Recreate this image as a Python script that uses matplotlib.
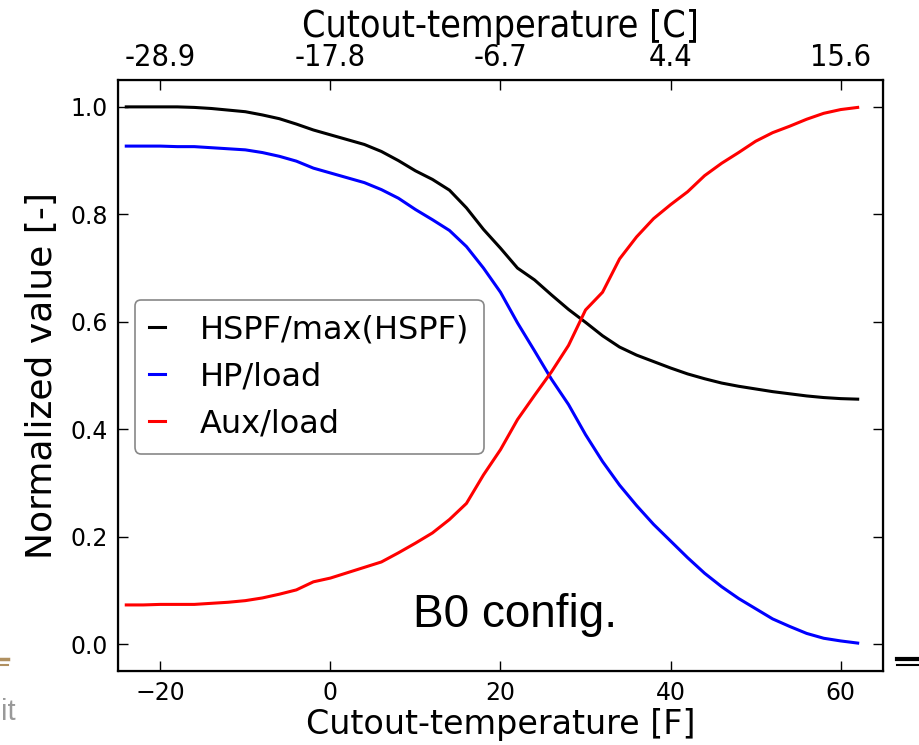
"""Normalized HSPF / HP / Aux vs cutout temperature (B0 config)."""
import matplotlib
matplotlib.use('Agg')
import matplotlib.pyplot as plt
from matplotlib.lines import Line2D

plt.rcParams['font.family'] = ['DejaVu Sans']

# cutout temperature [F]
temp_f = [-24, -22, -20, -18, -16, -14, -12, -10, -8, -6, -4, -2, 0, 2, 4, 6,
          8, 10, 12, 14, 16, 18, 20, 22, 24, 26, 28, 30, 32, 34, 36, 38, 40,
          42, 44, 46, 48, 50, 52, 54, 56, 58, 60, 62]

hspf_norm = [1.000, 1.000, 1.000, 1.000, 0.999, 0.997, 0.994, 0.991, 0.985,
             0.978, 0.968, 0.957, 0.948, 0.939, 0.930, 0.917, 0.900, 0.881,
             0.865, 0.845, 0.812, 0.772, 0.737, 0.700, 0.678, 0.650, 0.623,
             0.599, 0.574, 0.553, 0.538, 0.526, 0.514, 0.503, 0.494, 0.486,
             0.480, 0.475, 0.470, 0.466, 0.462, 0.459, 0.457, 0.456]

hp_load = [0.927, 0.927, 0.927, 0.926, 0.926, 0.924, 0.922, 0.920, 0.915,
           0.908, 0.899, 0.886, 0.877, 0.868, 0.859, 0.846, 0.830, 0.809,
           0.790, 0.770, 0.740, 0.700, 0.655, 0.598, 0.546, 0.493, 0.446,
           0.390, 0.340, 0.296, 0.258, 0.223, 0.192, 0.161, 0.132, 0.107,
           0.085, 0.066, 0.047, 0.033, 0.020, 0.011, 0.006, 0.002]

aux_load = [0.073, 0.073, 0.074, 0.074, 0.074, 0.076, 0.078, 0.081, 0.086,
            0.093, 0.101, 0.116, 0.123, 0.133, 0.143, 0.153, 0.170, 0.188,
            0.207, 0.232, 0.262, 0.315, 0.362, 0.418, 0.463, 0.507, 0.556,
            0.622, 0.655, 0.717, 0.758, 0.792, 0.818, 0.842, 0.872, 0.895,
            0.915, 0.936, 0.952, 0.964, 0.977, 0.988, 0.995, 0.999]

f_ticks = [-20, 0, 20, 40, 60]
c_tick_labels = ['-28.9', '-17.8', '-6.7', '4.4', '15.6']
y_ticks = [0.0, 0.2, 0.4, 0.6, 0.8, 1.0]

fig = plt.figure(figsize=(9.2, 7.45), dpi=100)
ax = fig.add_axes([0.128, 0.0993, 0.832, 0.7933])

ax.plot(temp_f, hspf_norm, color='black', lw=2.2, label='HSPF/max(HSPF)')
ax.plot(temp_f, hp_load, color='blue', lw=2.2, label='HP/load')
ax.plot(temp_f, aux_load, color='red', lw=2.2, label='Aux/load')

ax.set_xlim(-25, 65)
ax.set_ylim(-0.05, 1.05)
ax.set_xticks(f_ticks)
ax.set_yticks(y_ticks)
ax.set_yticklabels([f'{v:.1f}' for v in y_ticks])
ax.tick_params(direction='in', length=7, width=1, labelsize=17,
               right=True, top=False, pad=7)
ax.set_xlabel('Cutout-temperature [F]', fontsize=24, labelpad=2)
ax.set_ylabel('Normalized value [-]', fontsize=26, labelpad=8)
for sp in ax.spines.values():
    sp.set_linewidth(1.6)

ax2 = ax.twiny()
ax2.set_xlim(ax.get_xlim())
ax2.set_xticks(f_ticks)
ax2.set_xticklabels(c_tick_labels, fontsize=22, fontstretch='condensed')
ax2.tick_params(direction='in', length=7, width=1, pad=6)
ax2.set_xlabel('Cutout-temperature [C]', fontsize=27,
               fontstretch='condensed', labelpad=4)

leg = ax.legend(loc='upper left', bbox_to_anchor=(0.022, 0.628),
                borderaxespad=0, fontsize=23, handlelength=0.5,
                handletextpad=1.1, labelspacing=0.5, borderpad=0.45,
                fancybox=True, framealpha=1)
leg.get_frame().set_edgecolor('#888888')
leg.get_frame().set_linewidth(1.2)

ax.text(0.386, 0.0745, 'B0 config.', transform=ax.transAxes,
        fontsize=33, family='Liberation Sans', va='baseline')

# slide leftovers around the figure
fig.add_artist(Line2D([0, 0.009], [0.1155, 0.1155], color='#b09060', lw=2.5))
fig.add_artist(Line2D([0, 0.009], [0.108, 0.108], color='#b09060', lw=1.5))
fig.add_artist(Line2D([0.975, 1.0], [0.1155, 0.1155], color='black', lw=3))
fig.add_artist(Line2D([0.975, 1.0], [0.108, 0.108], color='black', lw=1.5))
fig.text(0.001, 0.034, 'it', fontsize=21, color='#999999',
         family='Liberation Sans')

fig.savefig('out.png', dpi=100)
plt.close()
